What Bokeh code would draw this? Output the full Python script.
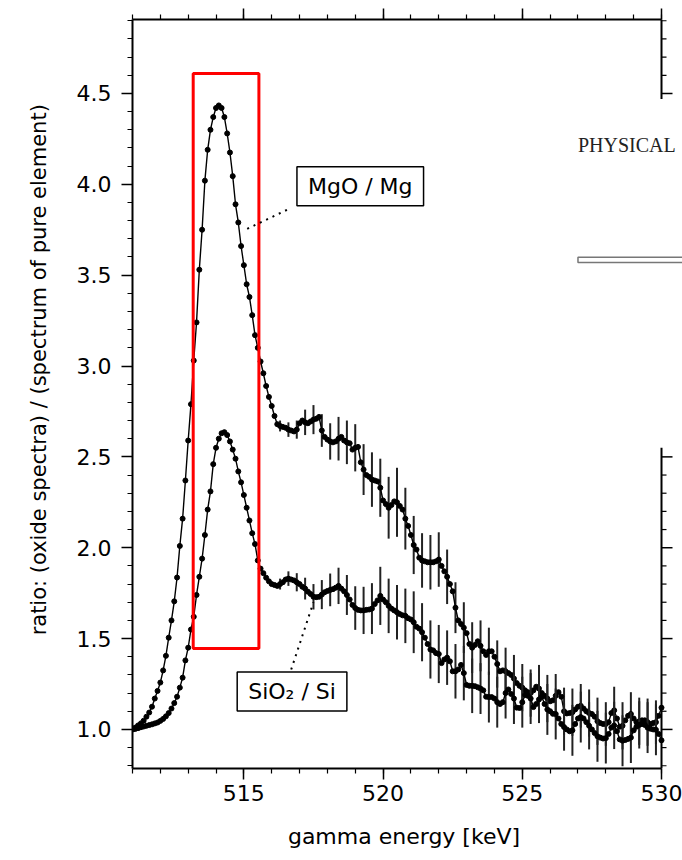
import numpy as np
from bokeh.plotting import figure
from bokeh.models import Range1d, LinearAxis, Label, FixedTicker, PrintfTickFormatter, Title
from bokeh.embed import file_html
from bokeh.resources import INLINE

# ---------------- data ----------------
E_START = 511.0      # first channel [keV]
E_STEP = 0.1         # channel width [keV]

MGO_MG = [
    1.000, 1.010, 1.022, 1.033, 1.048, 1.070, 1.093, 1.125, 1.170, 1.212,
    1.258, 1.325, 1.405, 1.505, 1.600, 1.705, 1.836, 2.010, 2.160, 2.370,
    2.590, 2.790, 3.030, 3.240, 3.530, 3.750, 4.020, 4.190, 4.300, 4.370,
    4.420, 4.434, 4.420, 4.370, 4.280, 4.175, 4.045, 3.890, 3.790, 3.660,
    3.555, 3.450, 3.380, 3.280, 3.170, 3.100, 3.025, 2.960, 2.890, 2.830,
    2.780, 2.725, 2.680, 2.670, 2.665, 2.660, 2.650, 2.645, 2.640, 2.650,
    2.685, 2.700, 2.690, 2.685, 2.695, 2.705, 2.710, 2.720, 2.645, 2.610,
    2.595, 2.585, 2.580, 2.585, 2.600, 2.610, 2.590, 2.580, 2.575, 2.540,
    2.550, 2.555, 2.470, 2.430, 2.400, 2.390, 2.375, 2.370, 2.365, 2.330,
    2.260, 2.240, 2.220, 2.235, 2.255, 2.250, 2.230, 2.210, 2.160, 2.120,
    2.070, 2.015, 1.990, 1.945, 1.930, 1.925, 1.920, 1.920, 1.920, 1.925,
    1.935, 1.900, 1.870, 1.840, 1.800, 1.760, 1.670, 1.600, 1.580, 1.560,
    1.530, 1.470, 1.450, 1.465, 1.485, 1.460, 1.430, 1.410, 1.430, 1.430,
    1.400, 1.360, 1.320, 1.325, 1.320, 1.310, 1.300, 1.280, 1.255, 1.240,
    1.230, 1.215, 1.205, 1.200, 1.215, 1.235, 1.225, 1.200, 1.185, 1.170,
    1.155, 1.160, 1.185, 1.205, 1.180, 1.100, 1.088, 1.090, 1.095, 1.110,
    1.125, 1.130, 1.115, 1.100, 1.090, 1.085, 1.070, 1.045, 1.035, 1.030,
    1.030, 1.040, 1.090, 1.105, 1.060, 1.015, 1.020, 1.050, 1.075, 1.085,
    1.060, 1.040, 1.045, 1.050, 1.050, 1.040, 1.030, 1.035, 1.040, 1.075,
    1.120,
]

SIO2_SI = [
    1.000, 1.003, 1.007, 1.012, 1.016, 1.020, 1.024, 1.028, 1.033, 1.038,
    1.047, 1.058, 1.072, 1.090, 1.115, 1.145, 1.180, 1.230, 1.285, 1.380,
    1.450, 1.550, 1.620, 1.740, 1.840, 1.940, 2.070, 2.210, 2.310, 2.460,
    2.550, 2.600, 2.630, 2.636, 2.620, 2.585, 2.540, 2.490, 2.420, 2.360,
    2.290, 2.220, 2.150, 2.080, 2.020, 1.930, 1.885, 1.860, 1.835, 1.815,
    1.800, 1.795, 1.790, 1.800, 1.810, 1.825, 1.830, 1.825, 1.820, 1.810,
    1.800, 1.785, 1.775, 1.758, 1.745, 1.730, 1.728, 1.730, 1.742, 1.755,
    1.762, 1.768, 1.772, 1.780, 1.790, 1.775, 1.760, 1.740, 1.715, 1.685,
    1.668, 1.658, 1.655, 1.655, 1.658, 1.660, 1.665, 1.690, 1.710, 1.735,
    1.715, 1.700, 1.680, 1.665, 1.655, 1.645, 1.635, 1.628, 1.625, 1.612,
    1.605, 1.590, 1.565, 1.555, 1.535, 1.505, 1.470, 1.440, 1.435, 1.420,
    1.415, 1.365, 1.385, 1.395, 1.375, 1.320, 1.320, 1.330, 1.355, 1.310,
    1.245, 1.240, 1.240, 1.238, 1.232, 1.225, 1.215, 1.180, 1.178, 1.178,
    1.170, 1.150, 1.140, 1.150, 1.200, 1.220, 1.195, 1.170, 1.120, 1.118,
    1.150, 1.190, 1.185, 1.170, 1.123, 1.140, 1.165, 1.180, 1.140, 1.110,
    1.100, 1.086, 1.085, 1.060, 1.030, 1.013, 1.000, 0.990, 0.995, 1.030,
    1.060, 1.068, 1.060, 1.040, 1.020, 1.000, 0.980, 0.962, 0.955, 0.950,
    0.952, 0.975, 1.010, 1.022, 0.990, 0.945, 0.938, 0.942, 0.948, 0.955,
    0.995, 1.015, 1.025, 1.030, 1.025, 1.010, 1.004, 1.000, 0.998, 0.975,
    0.940,
]

# error bars: drawn on every third channel starting at 516.3 keV
ERR_START = 516.3
ERR_STEP = 0.3
MGO_ERR = [
    0.03, 0.04, 0.05, 0.07, 0.08, 0.09, 0.10, 0.12, 0.12, 0.13,
    0.14, 0.15, 0.16, 0.17, 0.19, 0.17, 0.16, 0.15, 0.15, 0.15,
    0.15, 0.14, 0.14, 0.14, 0.14, 0.13, 0.13, 0.13, 0.13, 0.13,
    0.13, 0.13, 0.13, 0.12, 0.13, 0.13, 0.12, 0.13, 0.13, 0.12,
    0.13, 0.13, 0.12, 0.13, 0.13, 0.12,
]
SIO2_ERR = [
    0.03, 0.04, 0.05, 0.06, 0.07, 0.08, 0.09, 0.10, 0.11, 0.12,
    0.13, 0.14, 0.16, 0.15, 0.15, 0.15, 0.17, 0.16, 0.16, 0.16,
    0.15, 0.15, 0.15, 0.15, 0.14, 0.14, 0.14, 0.14, 0.14, 0.14,
    0.14, 0.13, 0.14, 0.14, 0.13, 0.14, 0.14, 0.13, 0.14, 0.14,
    0.13, 0.14, 0.14, 0.13, 0.14, 0.14,
]

X_MAJOR = [515, 520, 525, 530]
X_MINOR = list(range(511, 531))
Y_MAJOR = [1.0, 1.5, 2.0, 2.5, 3.0, 3.5, 4.0, 4.5]
Y_MINOR = [round(0.8 + 0.1 * k, 1) for k in range(42)]

X_LABEL = "gamma energy  [keV]"
Y_LABEL = "ratio:  (oxide spectra) / (spectrum of pure element)"
MGO_TEXT = "MgO / Mg"
SIO2_TEXT = "SiO\u2082 / Si"
PAGE_TEXT = "PHYSICAL"

# ---------------- derived ----------------
energy = np.round(E_START + E_STEP * np.arange(len(MGO_MG)), 1)
err_e = np.round(ERR_START + ERR_STEP * np.arange(len(MGO_ERR)), 1)
err_idx = np.round((err_e - E_START) / E_STEP).astype(int)
mgo = np.array(MGO_MG)
sio = np.array(SIO2_SI)

FONT = "DejaVu Sans"
TICK_FS = "22px"
LABEL_FS = "22px"

X_END = 530.0
X_VIEW_END = 530.754        # the frame runs on to the page edge
Y_LO, Y_HI = 0.785, 4.907
PX_PER_KEV = 550 / (X_VIEW_END - 511.0)

p = figure(width=682, height=860,
           x_range=Range1d(511, X_VIEW_END), y_range=Range1d(Y_LO, Y_HI),
           output_backend="svg", toolbar_location=None,
           min_border_left=132, min_border_right=0,
           min_border_top=19, min_border_bottom=92)
p.grid.visible = False
p.outline_line_color = None
p.background_fill_color = "white"
p.border_fill_color = "white"

xt = FixedTicker(ticks=X_MAJOR, minor_ticks=X_MINOR)
yt = FixedTicker(ticks=Y_MAJOR, minor_ticks=Y_MINOR)


def style_axis(ax):
    ax.axis_line_width = 2
    ax.axis_line_color = "black"
    ax.major_tick_out = 11
    ax.major_tick_in = 0
    ax.minor_tick_out = 5
    ax.minor_tick_in = 0
    ax.major_tick_line_width = 1.5
    ax.minor_tick_line_width = 1.2
    ax.major_label_text_font = FONT
    ax.major_label_text_color = "black"
    ax.major_label_text_font_size = TICK_FS


xa = p.xaxis[0]
xa.ticker = xt
xa.bounds = (511, X_END)
style_axis(xa)
xa.major_label_standoff = 5
xa.axis_label = X_LABEL
xa.axis_label_text_font = FONT
xa.axis_label_text_font_size = LABEL_FS
xa.axis_label_text_font_style = "normal"
xa.axis_label_text_color = "black"
xa.axis_label_standoff = 20

ya = p.yaxis[0]
ya.ticker = yt
ya.formatter = PrintfTickFormatter(format="%.1f")
style_axis(ya)
ya.major_label_standoff = 10

top = LinearAxis(ticker=xt, bounds=(511, X_END))
style_axis(top)
top.major_label_text_color = None
top.major_label_standoff = 0
p.add_layout(top, "above")

# y axis title, placed toward the upper part of the axis as in the original
ytitle = Title(text=Y_LABEL, align="right", offset=78, standoff=46,
               text_font=FONT, text_font_size="21px",
               text_font_style="normal", text_color="black")
p.add_layout(ytitle, "left")

# ---------------- right-hand axis (interrupted by the overlapping page) ----
RIGHT_PIECES = [(Y_LO, 2.55), (4.47, Y_HI)]
MAJ_LEN = 11 / PX_PER_KEV
MIN_LEN = 5 / PX_PER_KEV
for lo, hi in RIGHT_PIECES:
    p.segment(x0=[X_END], y0=[lo], x1=[X_END], y1=[hi],
              line_color="black", line_width=2)
    ymin = [v for v in Y_MINOR if lo <= v <= hi and v not in Y_MAJOR]
    ymaj = [v for v in Y_MAJOR if lo <= v <= hi]
    p.segment(x0=[X_END] * len(ymin), y0=ymin,
              x1=[X_END + MIN_LEN] * len(ymin), y1=ymin,
              line_color="black", line_width=1.2)
    p.segment(x0=[X_END] * len(ymaj), y0=ymaj,
              x1=[X_END + MAJ_LEN] * len(ymaj), y1=ymaj,
              line_color="black", line_width=1.5)

# ---------------- data marks ----------------
for vals, errs in ((mgo, MGO_ERR), (sio, SIO2_ERR)):
    yv = vals[err_idx]
    ev = np.array(errs)
    p.segment(x0=err_e, y0=yv - ev, x1=err_e, y1=yv + ev,
              line_color="#222222", line_width=2)
    p.line(energy, vals, line_color="black", line_width=1.4)
    p.scatter(energy, vals, size=5, color="black")

# red highlight box
p.quad(left=[513.18], right=[515.54], bottom=[1.446], top=[4.61],
       fill_color=None, line_color="#ff0000", line_width=3)

# leader lines
p.line([515.12, 516.64], [3.755, 3.866], line_color="black",
       line_width=2, line_dash="2 5")
p.line([516.70, 517.50], [1.330, 1.700], line_color="black",
       line_width=2, line_dash="2 5")


def make_label(pad, **kw):
    try:
        return Label(padding=pad, **kw)
    except Exception:
        return Label(padding=max(pad.values()), **kw)


p.add_layout(make_label(dict(left=11, right=11, top=7, bottom=7),
                        x=519.18, y=3.99, text=MGO_TEXT, text_align="center",
                        text_baseline="middle", text_font=FONT,
                        text_font_size=LABEL_FS, text_color="black",
                        background_fill_color="white",
                        border_line_color="black", border_line_width=1.5))
p.add_layout(make_label(dict(left=11, right=11, top=7, bottom=7),
                        x=516.73, y=1.209, text=SIO2_TEXT, text_align="center",
                        text_baseline="middle", text_font=FONT,
                        text_font_size=LABEL_FS, text_color="black",
                        background_fill_color="white",
                        border_line_color="black", border_line_width=1.5))

# overlapping page fragment on the right
p.add_layout(Label(x=527.0, y=4.214, text=PAGE_TEXT, text_align="left",
                   text_baseline="middle", text_font="Liberation Serif",
                   text_font_size="20px", text_color="#222222"))

p.add_layout(make_label(dict(left=0, right=110, top=2, bottom=2),
                        x=527.0, y=3.584, text=" ", text_align="left",
                        text_baseline="middle", text_font_size="1px",
                        border_line_color="#777777", border_line_width=1.5))

open("out.html", "w").write(file_html(p, INLINE))
